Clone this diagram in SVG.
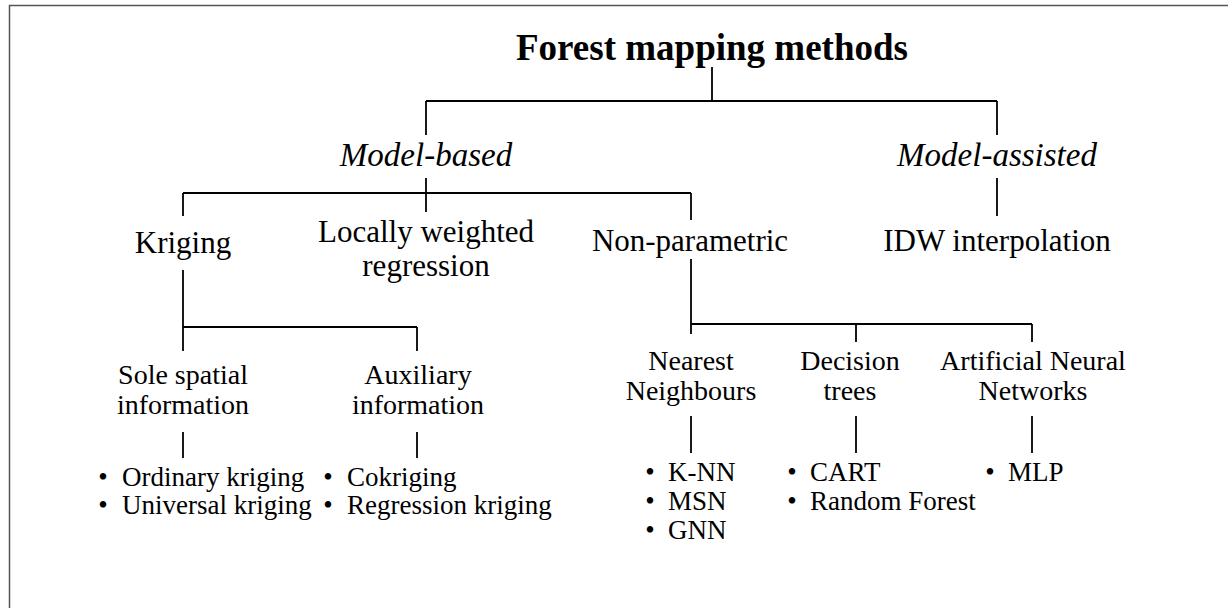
<svg xmlns="http://www.w3.org/2000/svg" width="1228" height="608" viewBox="0 0 1228 608">
<style>
  text { font-family: "Liberation Serif", "Times New Roman", serif; fill: #000; }
  .title { font-size: 37px; font-weight: bold; text-anchor: middle; }
  .l1 { font-size: 33px; font-style: italic; text-anchor: middle; }
  .l2 { font-size: 31px; text-anchor: middle; }
  .l3 { font-size: 28px; text-anchor: middle; }
  .li { font-size: 27px; }
  .bul { font-size: 27px; text-anchor: middle; }
  .conn path { stroke: #000; stroke-width: 1.8; fill: none; }
  .frame { stroke: #555; stroke-width: 1.5; fill: none; }
</style>
<rect width="1228" height="608" fill="#fff"/>
<path class="frame" d="M9.5,608 V5.5 H1228"/>

<g class="conn" id="connectors">
  <path d="M712,67 V101"/>
  <path d="M426,101 H997"/>
  <path d="M426,101 V135"/>
  <path d="M997,101 V135"/>
  <path d="M426,178 V212"/>
  <path d="M183,193 H691"/>
  <path d="M183,193 V216"/>
  <path d="M691,193 V220"/>
  <path d="M997,178 V216"/>
  <path d="M183,270 V327"/>
  <path d="M183,327 H417"/>
  <path d="M183,327 V351"/>
  <path d="M417,327 V351"/>
  <path d="M183,432 V458"/>
  <path d="M417,432 V458"/>
  <path d="M691,259 V334"/>
  <path d="M691,324 H1032"/>
  <path d="M856,324 V342"/>
  <path d="M1032,324 V342"/>
  <path d="M691,416 V453"/>
  <path d="M856,416 V453"/>
  <path d="M1032,416 V453"/>
</g>

<g id="title"><text class="title" x="712" y="60">Forest mapping methods</text></g>
<g id="model-based"><text class="l1" x="426" y="166">Model-based</text></g>
<g id="model-assisted"><text class="l1" x="997" y="166">Model-assisted</text></g>
<g id="kriging"><text class="l2" x="183" y="253">Kriging</text></g>
<g id="lwr"><text class="l2" x="426" y="242">Locally weighted</text><text class="l2" x="426" y="276">regression</text></g>
<g id="non-parametric"><text class="l2" x="690" y="251">Non-parametric</text></g>
<g id="idw"><text class="l2" x="997" y="251">IDW interpolation</text></g>
<g id="sole"><text class="l3" x="183" y="384">Sole spatial</text><text class="l3" x="183" y="414">information</text></g>
<g id="auxiliary"><text class="l3" x="418" y="384">Auxiliary</text><text class="l3" x="418" y="414">information</text></g>
<g id="nn"><text class="l3" x="691" y="370">Nearest</text><text class="l3" x="691" y="400">Neighbours</text></g>
<g id="dt"><text class="l3" x="850" y="370">Decision</text><text class="l3" x="850" y="400">trees</text></g>
<g id="ann"><text class="l3" x="1033" y="370">Artificial Neural</text><text class="l3" x="1033" y="400">Networks</text></g>

<g id="list-sole">
  <text class="bul" x="103" y="486">•</text><text class="li" x="122" y="486">Ordinary kriging</text>
  <text class="bul" x="103" y="514">•</text><text class="li" x="122" y="514">Universal kriging</text>
</g>
<g id="list-aux">
  <text class="bul" x="328" y="486">•</text><text class="li" x="347" y="486">Cokriging</text>
  <text class="bul" x="328" y="514">•</text><text class="li" x="347" y="514">Regression kriging</text>
</g>
<g id="list-nn">
  <text class="bul" x="650" y="481">•</text><text class="li" x="668" y="481">K-NN</text>
  <text class="bul" x="650" y="510">•</text><text class="li" x="668" y="510">MSN</text>
  <text class="bul" x="650" y="539">•</text><text class="li" x="668" y="539">GNN</text>
</g>
<g id="list-dt">
  <text class="bul" x="792" y="481">•</text><text class="li" x="810" y="481">CART</text>
  <text class="bul" x="792" y="510">•</text><text class="li" x="810" y="510">Random Forest</text>
</g>
<g id="list-ann">
  <text class="bul" x="990" y="481">•</text><text class="li" x="1008" y="481">MLP</text>
</g>
</svg>
